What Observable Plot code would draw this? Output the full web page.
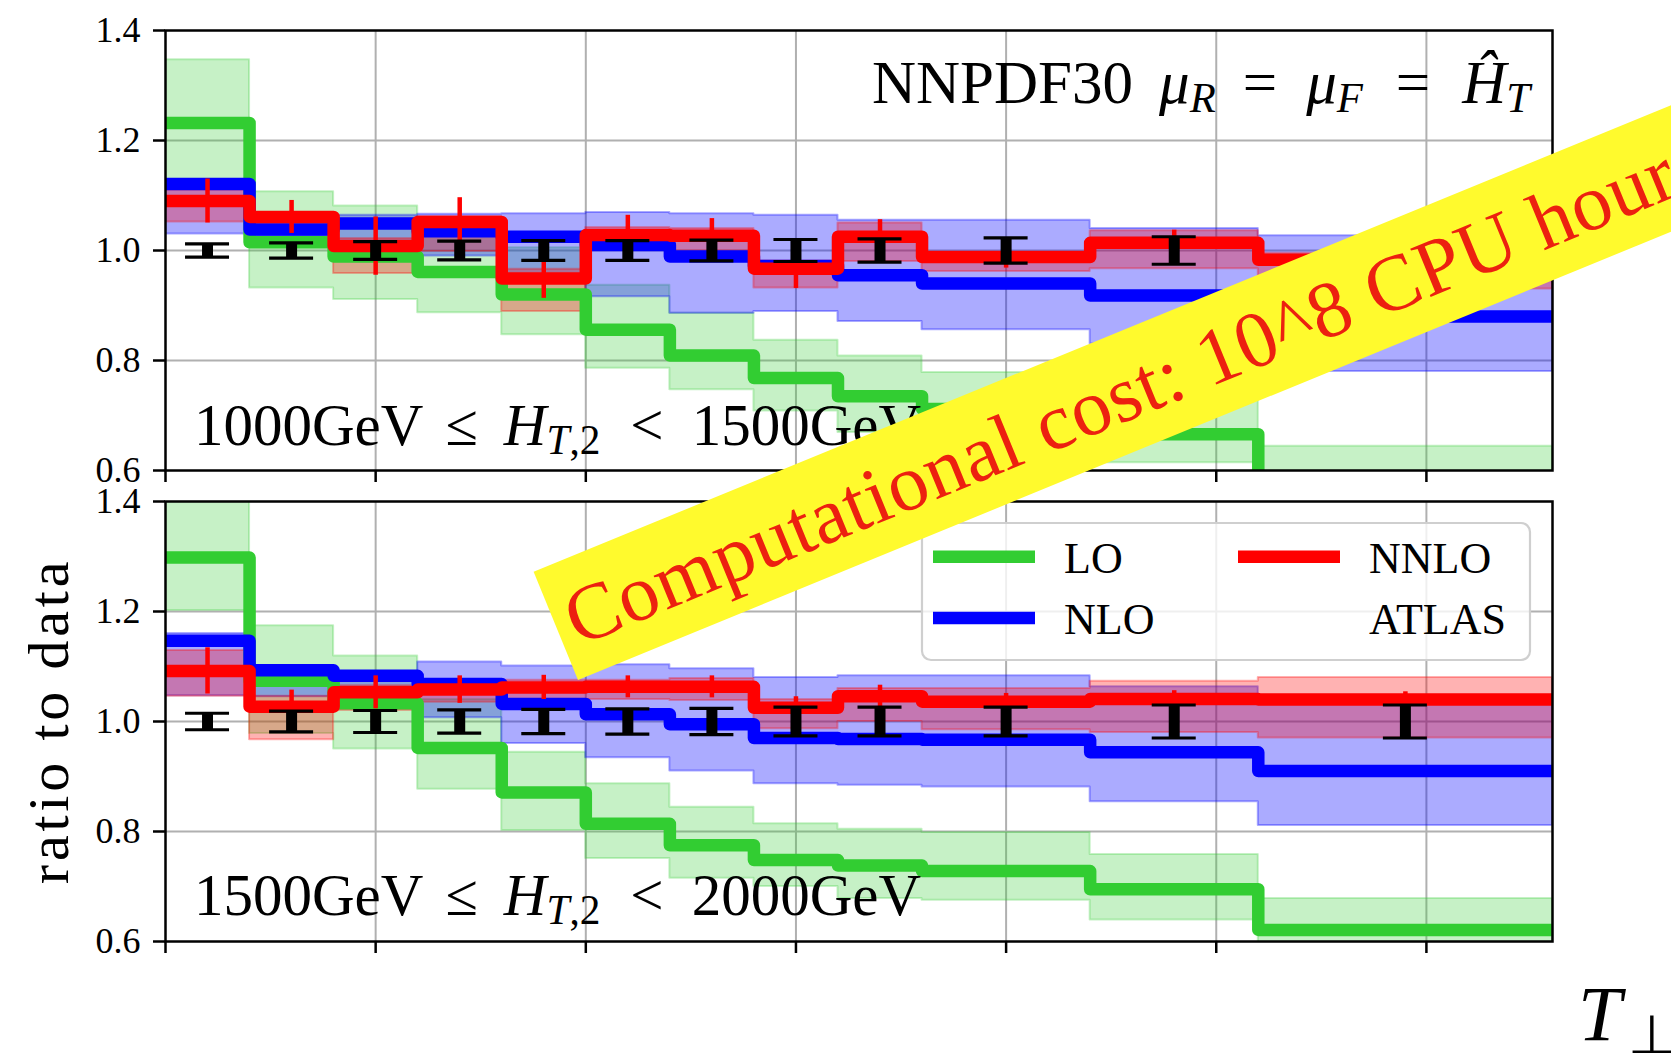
<!DOCTYPE html>
<html><head><meta charset="utf-8">
<script src="https://cdn.jsdelivr.net/npm/d3@7"></script>
<script src="https://cdn.jsdelivr.net/npm/@observablehq/plot@0.6"></script>
<style>
html,body{margin:0;padding:0;background:#fff;overflow:hidden;}
#wrap{position:relative;width:1671px;height:1053px;background:#fff;overflow:hidden;}
#wrap svg{position:absolute;left:0;}
</style></head><body><div id="wrap"></div>
<script>
// ---- binning (x in arbitrary units; the reference shows no x tick labels)
const binEdges = [0, 0.02, 0.04, 0.06, 0.08, 0.10, 0.12, 0.14, 0.16, 0.18, 0.22, 0.26, 0.33];
const binCenters = [0.01, 0.03, 0.05, 0.07, 0.09, 0.11, 0.13, 0.15, 0.17, 0.20, 0.24, 0.295];
const xTicks = [0, 0.05, 0.10, 0.15, 0.20, 0.25, 0.30];
const yTicks = [0.6, 0.8, 1.0, 1.2, 1.4];

// ---- panel A: 1000GeV <= H_T,2 < 1500GeV
const loA      = [1.232, 1.015, 0.989, 0.961, 0.920, 0.856, 0.809, 0.768, 0.735, 0.712, 0.666, 0.585];
const loA_lo   = [1.120, 0.932, 0.911, 0.887, 0.847, 0.786, 0.747, 0.708, 0.669, 0.648, 0.614, 0.535];
const loA_hi   = [1.347, 1.107, 1.081, 1.052, 1.005, 0.937, 0.886, 0.837, 0.808, 0.778, 0.728, 0.644];
const nloA     = [1.121, 1.038, 1.049, 1.035, 1.025, 1.010, 0.989, 0.972, 0.955, 0.940, 0.918, 0.880];
const nloA_lo  = [1.030, 1.025, 0.990, 0.990, 0.950, 0.916, 0.886, 0.889, 0.871, 0.856, 0.830, 0.780];
const nloA_hi  = [1.126, 1.052, 1.064, 1.066, 1.067, 1.069, 1.067, 1.064, 1.055, 1.055, 1.040, 1.027];
const nnloA    = [1.090, 1.061, 1.008, 1.052, 0.949, 1.028, 1.027, 0.967, 1.025, 0.988, 1.014, 0.983];
const nnloA_lo = [1.052, 1.030, 0.958, 0.998, 0.889, 1.000, 0.999, 0.932, 0.980, 0.962, 0.967, 0.930];
const nnloA_hi = [1.110, 1.068, 1.022, 1.062, 0.966, 1.042, 1.040, 0.981, 1.050, 0.995, 1.036, 0.995];
const nnloA_err = [0.040, 0.030, 0.053, 0.044, 0.036, 0.036, 0.031, 0.036, 0.031, 0.020, 0.023, 0.020];
const atlasA_err = [0.012, 0.014, 0.016, 0.017, 0.018, 0.018, 0.019, 0.020, 0.021, 0.023, 0.025, 0.030];

// ---- panel B: 1500GeV <= H_T,2 < 2000GeV
const loB      = [1.298, 1.074, 1.033, 0.952, 0.871, 0.814, 0.775, 0.748, 0.738, 0.728, 0.695, 0.621];
const loB_lo   = [1.202, 0.978, 0.950, 0.877, 0.802, 0.751, 0.715, 0.700, 0.678, 0.675, 0.639, 0.570];
const loB_hi   = [1.420, 1.174, 1.119, 1.040, 0.944, 0.887, 0.844, 0.814, 0.804, 0.798, 0.758, 0.678];
const nloB     = [1.147, 1.093, 1.083, 1.068, 1.032, 1.013, 0.995, 0.970, 0.968, 0.967, 0.944, 0.910];
const nloB_lo  = [1.047, 1.045, 1.030, 1.007, 0.960, 0.934, 0.910, 0.887, 0.884, 0.881, 0.854, 0.811];
const nloB_hi  = [1.160, 1.100, 1.090, 1.108, 1.101, 1.103, 1.096, 1.080, 1.083, 1.083, 1.063, 1.035];
const nnloB    = [1.092, 1.027, 1.053, 1.058, 1.062, 1.063, 1.063, 1.025, 1.046, 1.036, 1.041, 1.040];
const nnloB_lo = [1.046, 0.967, 1.020, 1.035, 1.040, 1.040, 1.038, 0.987, 1.000, 0.985, 0.980, 0.970];
const nnloB_hi = [1.129, 1.046, 1.065, 1.070, 1.075, 1.075, 1.078, 1.040, 1.060, 1.060, 1.073, 1.080];
const nnloB_err = [0.042, 0.030, 0.030, 0.025, 0.022, 0.020, 0.020, 0.020, 0.020, 0.015, 0.015, 0.014];
const atlasB_err = [0.015, 0.019, 0.020, 0.021, 0.022, 0.023, 0.024, 0.026, 0.026, 0.026, 0.030, 0.030];

const legendLabels = ["LO", "NLO", "NNLO", "ATLAS"];
const bannerText = "Computational cost: 10^8 CPU hours";

// ---- helpers
const GREEN = "#32cd32", BLUE = "#0000ff", RED = "#ff0000";
const W = 1671, ML = 165, MR = 119;
const xDomain = [binEdges[0], binEdges[binEdges.length - 1]];

function steps(v, lo, hi) {
  const rows = binEdges.slice(0, -1).map((x, i) => ({x, v: v[i], lo: lo[i], hi: hi[i]}));
  const n = v.length - 1;
  rows.push({x: binEdges[n + 1], v: v[n], lo: lo[n], hi: hi[n]});
  return rows;
}

function panel({lo, lo_lo, lo_hi, nlo, nlo_lo, nlo_hi, nnlo, nnlo_lo, nnlo_hi, nnlo_err, atlas_err}, height, mt, mb) {
  const sLO = steps(lo, lo_lo, lo_hi), sNLO = steps(nlo, nlo_lo, nlo_hi), sNNLO = steps(nnlo, nnlo_lo, nnlo_hi);
  const errs = binCenters.map((x, i) => ({x, y1: nnlo[i] - nnlo_err[i], y2: nnlo[i] + nnlo_err[i]}));
  const atlas = binCenters.map((x, i) => ({x, y1: 1 - atlas_err[i], y2: 1 + atlas_err[i]}));
  const capHalf = (xDomain[1] - xDomain[0]) * 22 / (W - ML - MR);
  const caps = atlas.flatMap(d => [{x1: d.x - capHalf, x2: d.x + capHalf, y: d.y1}, {x1: d.x - capHalf, x2: d.x + capHalf, y: d.y2}]);
  const band = (data, c, op) => Plot.areaY(data, {x: "x", y1: "lo", y2: "hi", curve: "step-after", fill: c, fillOpacity: op, stroke: c, strokeOpacity: op, strokeWidth: 2, clip: true});
  const line = (data, c) => Plot.line(data, {x: "x", y: "v", curve: "step-after", stroke: c, strokeWidth: 12.5, strokeLinejoin: "round", clip: true});
  return Plot.plot({
    width: W, height, marginLeft: ML, marginRight: MR, marginTop: mt, marginBottom: mb,
    x: {domain: xDomain},
    y: {domain: [0.6, 1.4]},
    style: {background: "transparent", fontFamily: "Liberation Serif", fontSize: "36px", overflow: "visible", color: "black"},
    marks: [
      Plot.gridY([0.8, 1.0, 1.2], {stroke: "#b0b0b0", strokeOpacity: 1, strokeWidth: 2}),
      Plot.gridX(xTicks.filter(d => d > 0), {stroke: "#b0b0b0", strokeOpacity: 1, strokeWidth: 2}),
      band(sLO, GREEN, 0.28),
      band(sNLO, BLUE, 0.33),
      band(sNNLO, RED, 0.3),
      line(sLO, GREEN),
      line(sNLO, BLUE),
      line(sNNLO, RED),
      Plot.ruleX(errs, {x: "x", y1: "y1", y2: "y2", stroke: RED, strokeWidth: 4.5, clip: true}),
      Plot.ruleX(atlas, {x: "x", y1: "y1", y2: "y2", stroke: "black", strokeWidth: 11}),
      Plot.ruleY(caps, {x1: "x1", x2: "x2", y: "y", stroke: "black", strokeWidth: 3.2}),
      Plot.axisY(yTicks, {tickSize: 12, tickPadding: 13, tickFormat: d => d.toFixed(1), label: null, strokeWidth: 2.5}),
      Plot.axisX(xTicks, {tickSize: 12, tickFormat: () => "", label: null, strokeWidth: 2.5}),
      Plot.frame({stroke: "black", strokeWidth: 2.5})
    ]
  });
}

function rich(sel, x, y, size, parts, anchor = "start") {
  const t = sel.append("text").attr("x", x).attr("y", y).attr("font-size", size)
    .attr("font-family", "Liberation Serif").attr("fill", "black").attr("text-anchor", anchor);
  let inSub = false; const shift = Math.round(size * 0.155);
  for (const p of parts) {
    const s = t.append("tspan").text(p.t);
    if (p.it) s.attr("font-style", "italic");
    let dy = 0;
    if (p.sub && !inSub) { dy = shift; inSub = true; }
    else if (!p.sub && inSub) { dy = -shift; inSub = false; }
    if (dy) s.attr("dy", dy);
    s.attr("font-size", p.sub ? size * 0.7 : size);
    if (p.dx) s.attr("dx", p.dx);
  }
  return t;
}

const wrap = document.getElementById("wrap");

// top panel
const topH = 486;
const svgA = panel({lo: loA, lo_lo: loA_lo, lo_hi: loA_hi, nlo: nloA, nlo_lo: nloA_lo, nlo_hi: nloA_hi,
  nnlo: nnloA, nnlo_lo: nnloA_lo, nnlo_hi: nnloA_hi, nnlo_err: nnloA_err, atlas_err: atlasA_err}, topH, 30, 16);
svgA.style.top = "0px";
wrap.appendChild(svgA);

// bottom panel
const svgB = panel({lo: loB, lo_lo: loB_lo, lo_hi: loB_hi, nlo: nloB, nlo_lo: nloB_lo, nlo_hi: nloB_hi,
  nnlo: nnloB, nnlo_lo: nnloB_lo, nnlo_hi: nnloB_hi, nnlo_err: nnloB_err, atlas_err: atlasB_err}, 1053 - topH, 15, 112);
svgB.style.top = topH + "px";
wrap.appendChild(svgB);

// annotations, top panel
const gA = d3.select(svgA).append("g").attr("text-anchor", "start");
rich(gA, 872, 103, 61, [
  {t: "NNPDF30"}, {t: "\u03bc", it: 1, dx: 26}, {t: "R", it: 1, sub: 1}, {t: "=", dx: 27},
  {t: "\u03bc", it: 1, dx: 29}, {t: "F", it: 1, sub: 1}, {t: "=", dx: 33},
  {t: "\u0124", it: 1, dx: 32}, {t: "T", it: 1, sub: 1}]);
const rangeParts = (a, b) => [{t: a + "GeV"}, {t: "\u2264", dx: 22}, {t: "H", it: 1, dx: 26},
  {t: "T", it: 1, sub: 1}, {t: ",2", sub: 1}, {t: "<", dx: 30}, {t: b + "GeV", dx: 28}];
rich(gA, 194, 445, 59, rangeParts("1000", "1500"));

// annotations, bottom panel
const gB = d3.select(svgB).append("g").attr("text-anchor", "start");
rich(gB, 194, 429, 59, rangeParts("1500", "2000"));
gB.append("text").attr("transform", "translate(68,235) rotate(-90)").attr("text-anchor", "middle")
  .attr("font-family", "Liberation Serif").attr("font-size", 58).attr("letter-spacing", 3.8).attr("fill", "black")
  .text("ratio to data");
gB.append("text").attr("x", 1578).attr("y", 554).attr("text-anchor", "start").attr("font-family", "Liberation Serif")
  .attr("font-style", "italic").attr("font-size", 78).attr("fill", "black").text("T");
gB.append("text").attr("x", 1652).attr("y", 568).attr("text-anchor", "middle").attr("font-family", "DejaVu Sans")
  .attr("font-size", 55).attr("fill", "black").text("\u22a5");

// legend
const lg = gB.append("g");
lg.append("rect").attr("x", 922).attr("y", 37).attr("width", 608).attr("height", 137).attr("rx", 9)
  .attr("fill", "white").attr("fill-opacity", 0.8).attr("stroke", "#cfcfcf").attr("stroke-width", 2.2);
const legItems = [
  {label: legendLabels[0], c: GREEN, x: 933, y: 70.7},
  {label: legendLabels[1], c: BLUE, x: 933, y: 132},
  {label: legendLabels[2], c: RED, x: 1238, y: 70.7},
  {label: legendLabels[3], c: null, x: 1238, y: 132}
];
for (const it of legItems) {
  if (it.c) lg.append("line").attr("x1", it.x).attr("x2", it.x + 102).attr("y1", it.y).attr("y2", it.y)
    .attr("stroke", it.c).attr("stroke-width", 12.5);
  lg.append("text").attr("x", it.x + 131).attr("y", it.y + 16).attr("text-anchor", "start")
    .attr("font-family", "Liberation Serif").attr("font-size", 44).attr("fill", "black").text(it.label);
}

// banner overlay
const ov = d3.select(wrap).append("svg").attr("width", W).attr("height", 1053).style("top", "0px").style("pointer-events", "none");
const bg = ov.append("g").attr("transform", "translate(578,680) rotate(-22.3)");
bg.append("rect").attr("x", 0).attr("y", -117).attr("width", 1500).attr("height", 117).attr("fill", "rgb(255,250,45)");
bg.append("text").attr("x", 13).attr("y", -31).attr("font-family", "Liberation Serif").attr("font-size", 80)
  .attr("letter-spacing", 0.8).attr("fill", "#ec2010").text(bannerText);
</script></body></html>
